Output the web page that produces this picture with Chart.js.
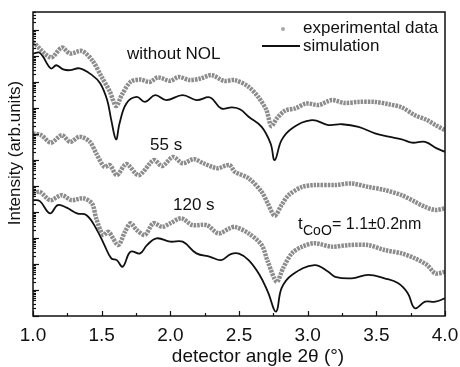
<!DOCTYPE html>
<html>
<head>
<meta charset="utf-8">
<script src="https://cdn.jsdelivr.net/npm/chart.js@4"></script>
<style>
  html, body { margin: 0; padding: 0; background: #fff; }
</style>
</head>
<body>
<canvas id="xrr" width="460" height="367"></canvas>
<script>
// y is in decades of intensity (log axis, no labels)
const nolExpX = [1.0, 1.13, 1.21, 1.27, 1.355, 1.43, 1.50, 1.56, 1.605, 1.646, 1.71, 1.78, 1.85, 1.91, 2.0, 2.06, 2.14, 2.22, 2.30, 2.39, 2.47, 2.57, 2.64, 2.70, 2.735, 2.775, 2.835, 2.91, 2.99, 3.08, 3.175, 3.27, 3.37, 3.49, 3.59, 3.685, 3.78, 3.87, 3.93, 4.0];
const nolExpY = [10.55, 9.95, 10.33, 10.10, 10.20, 9.85, 9.20, 8.63, 8.08, 8.50, 9.01, 9.10, 9.01, 9.18, 9.05, 9.20, 9.08, 9.14, 9.27, 9.05, 9.08, 8.82, 8.43, 7.92, 7.31, 7.60, 7.90, 7.99, 8.18, 8.12, 8.31, 8.20, 8.24, 8.24, 8.15, 8.03, 7.73, 7.54, 7.35, 7.15];

const nolSimX = [1.0, 1.05, 1.13, 1.17, 1.22, 1.27, 1.34, 1.43, 1.49, 1.54, 1.57, 1.605, 1.63, 1.68, 1.755, 1.815, 1.89, 1.97, 2.09, 2.19, 2.29, 2.37, 2.45, 2.51, 2.57, 2.665, 2.73, 2.76, 2.81, 2.885, 3.03, 3.15, 3.25, 3.37, 3.49, 3.59, 3.685, 3.76, 3.855, 3.94, 4.0];
const nolSimY = [10.10, 10.13, 9.53, 9.65, 9.49, 9.46, 9.53, 9.27, 8.95, 8.31, 7.54, 6.80, 7.41, 8.18, 8.43, 8.24, 8.50, 8.31, 8.50, 8.31, 8.41, 7.99, 8.03, 7.95, 7.67, 7.28, 6.64, 6.00, 6.77, 7.22, 7.54, 7.35, 7.38, 7.28, 7.03, 6.90, 6.80, 6.67, 6.70, 6.45, 6.32];

const s55ExpX = [1.0, 1.06, 1.13, 1.21, 1.27, 1.34, 1.415, 1.46, 1.52, 1.56, 1.61, 1.68, 1.77, 1.88, 1.94, 2.02, 2.09, 2.17, 2.24, 2.34, 2.43, 2.47, 2.57, 2.665, 2.71, 2.76, 2.81, 2.86, 2.96, 3.05, 3.20, 3.32, 3.44, 3.56, 3.685, 3.78, 3.855, 3.93, 4.0];
const s55ExpY = [7.03, 6.96, 6.67, 6.96, 6.70, 6.90, 6.70, 6.26, 5.74, 5.81, 5.42, 5.85, 5.42, 6.00, 5.77, 6.12, 5.88, 6.04, 5.88, 5.69, 5.81, 5.55, 5.30, 4.78, 4.33, 3.86, 4.27, 4.65, 4.97, 5.04, 5.04, 5.10, 4.97, 4.85, 4.65, 4.40, 4.20, 4.08, 4.14];

const s120ExpX = [1.0, 1.05, 1.124, 1.21, 1.28, 1.366, 1.43, 1.46, 1.51, 1.55, 1.62, 1.67, 1.71, 1.755, 1.815, 1.876, 1.94, 2.0, 2.08, 2.16, 2.265, 2.35, 2.43, 2.47, 2.57, 2.665, 2.71, 2.775, 2.82, 2.885, 2.96, 3.05, 3.175, 3.30, 3.44, 3.56, 3.685, 3.78, 3.87, 3.93, 4.0];
const s120ExpY = [4.72, 4.78, 4.46, 4.65, 4.46, 4.53, 4.33, 3.76, 3.12, 3.24, 2.73, 3.24, 3.57, 3.31, 3.12, 3.57, 3.43, 3.57, 3.76, 3.50, 3.50, 3.18, 3.37, 3.43, 3.18, 2.73, 2.09, 1.32, 1.83, 2.41, 2.67, 2.80, 2.67, 2.73, 2.73, 2.54, 2.41, 2.22, 1.96, 1.64, 1.70];

const s120SimX = [1.0, 1.05, 1.124, 1.18, 1.245, 1.32, 1.39, 1.46, 1.52, 1.57, 1.61, 1.653, 1.71, 1.78, 1.83, 1.90, 2.0, 2.09, 2.19, 2.29, 2.37, 2.44, 2.50, 2.57, 2.65, 2.71, 2.77, 2.81, 2.885, 3.05, 3.15, 3.20, 3.32, 3.44, 3.56, 3.66, 3.73, 3.78, 3.855, 3.93, 4.0];
const s120SimY = [4.46, 4.42, 3.95, 4.27, 4.17, 3.95, 3.88, 3.37, 2.73, 2.22, 2.15, 1.90, 2.47, 2.41, 2.73, 2.99, 2.86, 2.86, 2.41, 2.28, 2.15, 2.38, 2.40, 2.15, 1.58, 0.93, 0.17, 1.07, 1.58, 1.96, 1.70, 1.51, 1.45, 1.58, 1.45, 1.26, 0.87, 0.30, 0.55, 0.55, 0.68];

const xTicks = [1.0, 1.5, 2.0, 2.5, 3.0, 3.5, 4.0];
const yDecades = 11.7;

const FONT = "'Liberation Sans', Arial, sans-serif";

function pts(xs, ys) {
    return xs.map((x, i) => ({ x: x, y: ys[i] }));
}

// dense open circles in the original; a beaded grey stroke stands in for them
function expSet(xs, ys) {
    return {
        data: pts(xs, ys),
        borderColor: '#8c8c8c',
        borderWidth: 4.5,
        borderDash: [2.5, 1],
        pointRadius: 0,
        tension: 0.3
    };
}

function simSet(xs, ys) {
    return {
        data: pts(xs, ys),
        borderColor: '#111',
        borderWidth: 1.8,
        pointRadius: 0,
        tension: 0.4
    };
}

const decor = {
    id: 'decor',
    afterDraw(chart) {
        const ctx = chart.ctx;
        const a = chart.chartArea;
        const xs = chart.scales.x, ys = chart.scales.y;
        ctx.save();
        ctx.strokeStyle = '#111';
        ctx.lineWidth = 1.5;
        ctx.strokeRect(a.left, a.top, a.right - a.left, a.bottom - a.top);

        // inward x ticks
        ctx.lineWidth = 1.2;
        for (let v = 1.0; v <= 4.0001; v += 0.25) {
            const px = Math.round(xs.getPixelForValue(v)) + 0.5;
            const len = Math.abs(v * 2 - Math.round(v * 2)) < 1e-6 ? 5 : 3;
            ctx.beginPath();
            ctx.moveTo(px, a.bottom);
            ctx.lineTo(px, a.bottom - len);
            ctx.stroke();
        }
        // inward log y ticks
        for (let d = 0; d < 12; d++) {
            for (let k = 1; k <= 9; k++) {
                const v = d + Math.log10(k);
                if (v > yDecades) continue;
                const py = Math.round(ys.getPixelForValue(v)) + 0.5;
                ctx.beginPath();
                ctx.moveTo(a.left, py);
                ctx.lineTo(a.left + (k === 1 ? 6 : 3), py);
                ctx.stroke();
            }
        }

        // legend
        ctx.fillStyle = '#111';
        ctx.font = '17px ' + FONT;
        ctx.textBaseline = 'alphabetic';
        ctx.textAlign = 'left';
        ctx.fillText('experimental data', 303, 33);
        ctx.fillText('simulation', 303, 51);
        ctx.beginPath();
        ctx.fillStyle = '#a8a8a8';
        ctx.arc(283, 29, 2, 0, Math.PI * 2);
        ctx.fill();
        ctx.strokeStyle = '#111';
        ctx.lineWidth = 1.8;
        ctx.beginPath();
        ctx.moveTo(262, 46);
        ctx.lineTo(300, 46);
        ctx.stroke();

        // curve labels
        ctx.fillStyle = '#111';
        ctx.fillText('without NOL', 127, 59);
        ctx.fillText('55 s', 150, 150);
        ctx.fillText('120 s', 173, 210);
        ctx.fillText('t', 298, 229);
        ctx.font = '14px ' + FONT;
        ctx.fillText('CoO', 303, 235);
        ctx.font = '16px ' + FONT;
        ctx.fillText('= 1.1\u00b10.2nm', 332, 229);

        // axis titles
        ctx.font = '19px ' + FONT;
        ctx.textAlign = 'center';
        ctx.fillText('detector angle 2\u03b8 (\u00b0)', 258, 362);
        ctx.save();
        ctx.translate(20, 153);
        ctx.rotate(-Math.PI / 2);
        ctx.font = '17px ' + FONT;
        ctx.fillText('Intensity (arb.units)', 0, 0);
        ctx.restore();
        ctx.restore();
    }
};

new Chart(document.getElementById('xrr'), {
    type: 'line',
    data: {
        datasets: [
            expSet(nolExpX, nolExpY),
            simSet(nolSimX, nolSimY),
            expSet(s55ExpX, s55ExpY),
            expSet(s120ExpX, s120ExpY),
            simSet(s120SimX, s120SimY)
        ]
    },
    options: {
        responsive: false,
        devicePixelRatio: 1,
        animation: false,
        layout: { padding: { top: 12, right: 15, left: 0, bottom: 0 } },
        plugins: { legend: { display: false }, tooltip: { enabled: false } },
        scales: {
            x: {
                type: 'linear',
                min: 1, max: 4,
                afterFit: s => { s.height = 51; s.paddingLeft = 0; s.paddingRight = 0; },
                afterBuildTicks: s => { s.ticks = xTicks.map(v => ({ value: v })); },
                grid: { display: false },
                border: { display: false },
                ticks: {
                    padding: 0,
                    color: '#111',
                    font: { family: FONT, size: 19 },
                    callback: v => v.toFixed(1)
                }
            },
            y: {
                type: 'linear',
                min: 0, max: yDecades,
                afterFit: s => { s.width = 33; },
                grid: { display: false },
                border: { display: false },
                ticks: { display: false }
            }
        }
    },
    plugins: [decor]
});
</script>
</body>
</html>
